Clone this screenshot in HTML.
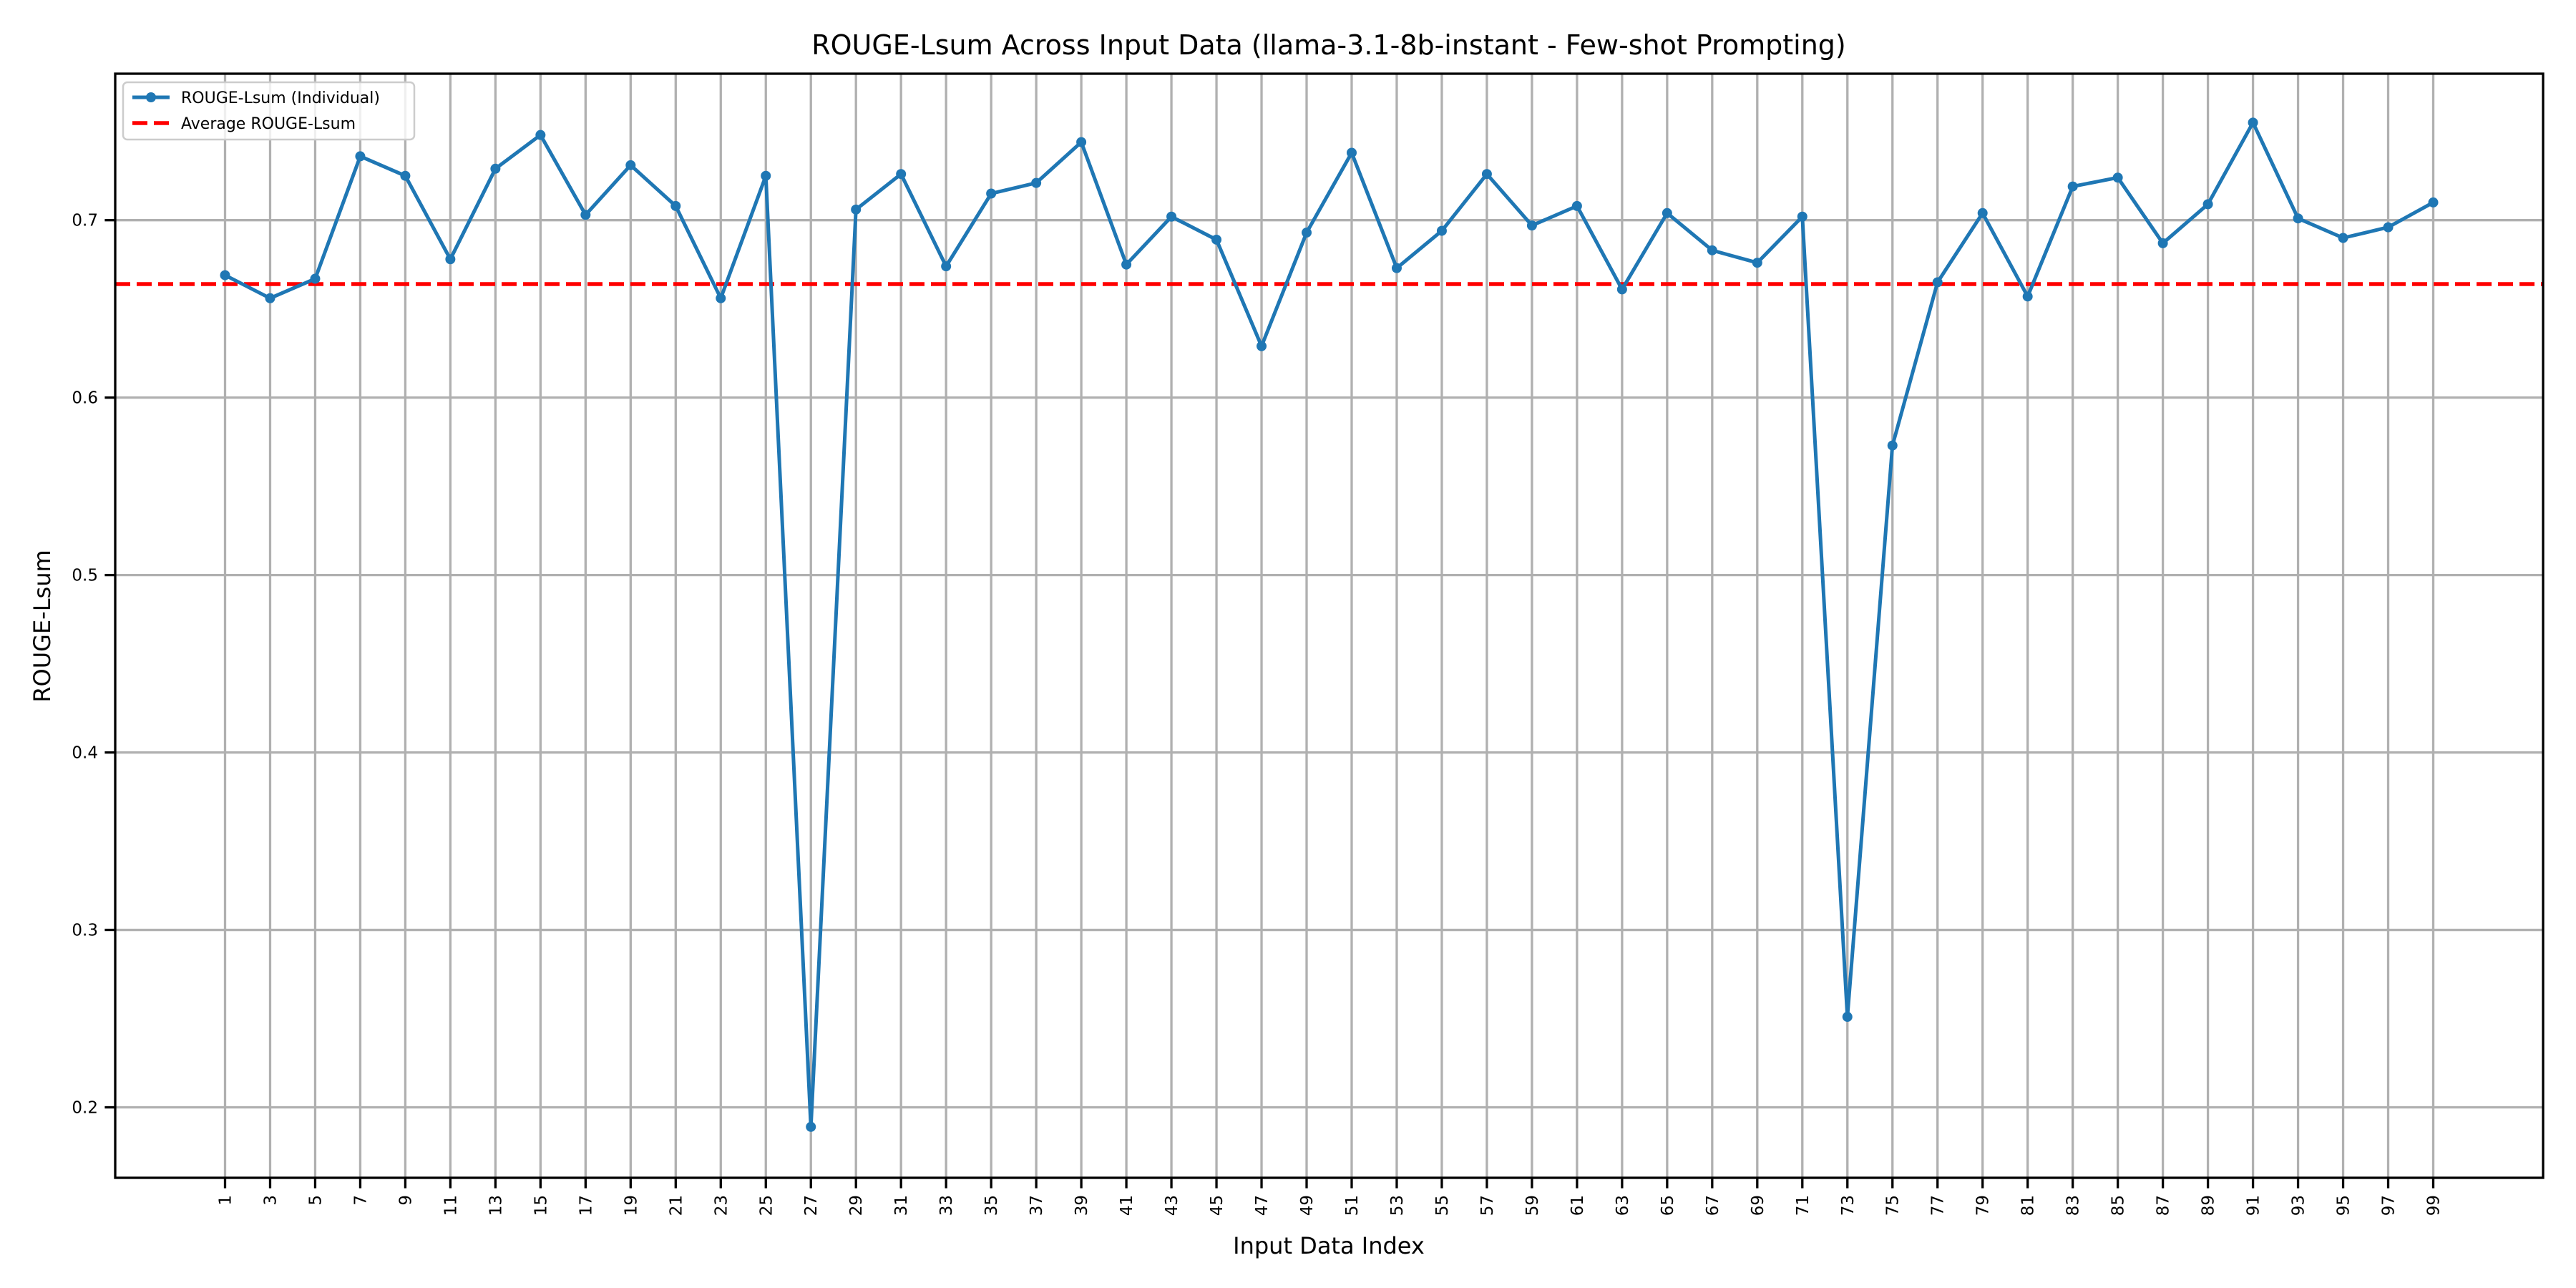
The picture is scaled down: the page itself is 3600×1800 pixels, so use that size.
<!DOCTYPE html>
<html><head><meta charset="utf-8"><style>
html,body{margin:0;padding:0;background:#fff;}
svg{display:block;font-family:"DejaVu Sans","Liberation Sans",sans-serif;}
</style></head><body>
<svg id="chart" width="3600" height="1800" viewBox="0 0 3600 1800" xmlns="http://www.w3.org/2000/svg">
<rect width="3600" height="1800" fill="#fff"/>
<text x="1857" y="76" font-size="38" text-anchor="middle">ROUGE-Lsum Across Input Data (llama-3.1-8b-instant - Few-shot Prompting)</text>
<text x="1857" y="1752" font-size="32" text-anchor="middle">Input Data Index</text>
<text x="70" y="875" font-size="32" text-anchor="middle" transform="rotate(-90 70 875)">ROUGE-Lsum</text>
<g id="grid"></g><g id="marks"></g><g id="axes"></g>
</svg>
<script>
const categories=[1,3,5,7,9,11,13,15,17,19,21,23,25,27,29,31,33,35,37,39,41,43,45,47,49,51,53,55,57,59,61,63,65,67,69,71,73,75,77,79,81,83,85,87,89,91,93,95,97,99];
const rougeValues=[0.669,0.656,0.667,0.736,0.725,0.678,0.729,0.748,0.703,0.731,0.708,0.656,0.725,0.189,0.706,0.726,0.674,0.715,0.721,0.744,0.675,0.702,0.689,0.629,0.693,0.738,0.673,0.694,0.726,0.697,0.708,0.661,0.704,0.683,0.676,0.702,0.251,0.573,0.665,0.704,0.657,0.719,0.724,0.687,0.709,0.755,0.701,0.690,0.696,0.710];
const averageValue=0.664;
const yTicks=[0.2,0.3,0.4,0.5,0.6,0.7];

const L=161,R=3554,T=103,B=1646;
const x0=314.5,x1=3400.5;
function xs(i){return x0+(i-categories[0])*(x1-x0)/(categories[categories.length-1]-categories[0]);}
function ys(v){return 1547.5+(0.2-v)*(1547.5-307.7)/0.5;}
const NS="http://www.w3.org/2000/svg";
function mk(tag,attrs,parent){const e=document.createElementNS(NS,tag);for(const k in attrs)e.setAttribute(k,attrs[k]);parent.appendChild(e);return e;}
const grid=document.getElementById('grid'),marks=document.getElementById('marks'),axes=document.getElementById('axes');

categories.forEach(c=>{
  const x=xs(c);
  const g=mk('line',{x1:x,x2:x,y1:T,y2:B,stroke:'#b0b0b0','stroke-width':3.3},grid);
  
  
  const t=mk('line',{x1:x,x2:x,y1:B,y2:B+14.6,stroke:'#000','stroke-width':3.3},axes);
  
  
  const lb=mk('text',{x:0,y:0,'font-size':23,'text-anchor':'end',transform:`translate(${x+8},${B+24}) rotate(-90)`},axes);
  lb.textContent=c;
  
  
});
yTicks.forEach(v=>{
  const y=ys(v);
  const g=mk('line',{x1:L,x2:R,y1:y,y2:y,stroke:'#b0b0b0','stroke-width':3.3},grid);
  
  
  const t=mk('line',{x1:L-14.6,x2:L,y1:y,y2:y,stroke:'#000','stroke-width':3.3},axes);
  
  
  const lb=mk('text',{x:L-24,y:y+8,'font-size':23,'text-anchor':'end'},axes);
  lb.textContent=v.toFixed(1);
  
  
});
const frame=mk('rect',{x:L,y:T,width:R-L,height:B-T,fill:'none',stroke:'#000','stroke-width':3.3},axes);



const ya=ys(averageValue);
const avg=mk('line',{x1:L,x2:R,y1:ya,y2:ya,stroke:'#ff0000','stroke-width':5.5,'stroke-dasharray':'21 9'},marks);



const pts=categories.map((c,i)=>xs(c)+','+ys(rougeValues[i])).join(' ');
const line=mk('polyline',{points:pts,fill:'none',stroke:'#1f77b4','stroke-width':5,'stroke-linejoin':'round'},marks);


categories.forEach((c,i)=>{
  const p=mk('circle',{cx:xs(c),cy:ys(rougeValues[i]),r:7,fill:'#1f77b4'},marks);
  
  
});

const lg=mk('g',{},axes);


mk('rect',{x:172,y:115,width:407,height:80,rx:6,fill:'#fff','fill-opacity':0.8,stroke:'#ccc','stroke-width':2.5},lg);
mk('line',{x1:185,x2:237,y1:136,y2:136,stroke:'#1f77b4','stroke-width':5},lg);
mk('circle',{cx:211,cy:136,r:7,fill:'#1f77b4'},lg);
const t1=mk('text',{x:253,y:144,'font-size':22},lg);t1.textContent='ROUGE-Lsum (Individual)';


mk('line',{x1:185,x2:237,y1:172,y2:172,stroke:'#ff0000','stroke-width':5.5,'stroke-dasharray':'21 9'},lg);
const t2=mk('text',{x:253,y:180,'font-size':22},lg);t2.textContent='Average ROUGE-Lsum';


</script>
</body></html>
